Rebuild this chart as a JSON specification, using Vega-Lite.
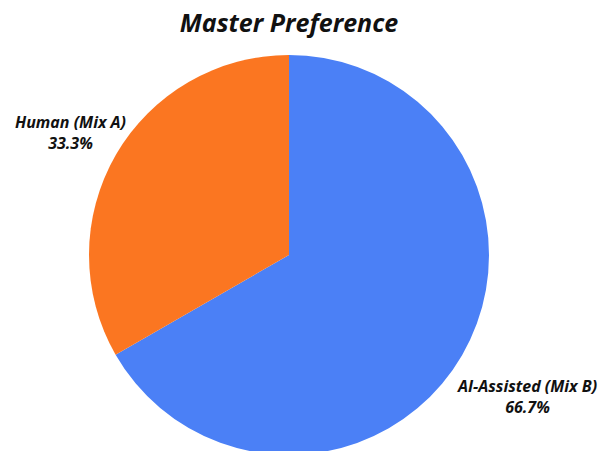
{
  "$schema": "https://vega.github.io/schema/vega-lite/v6.json",
  "width": 578,
  "height": 400,
  "autosize": "none",
  "padding": {"left": 0, "top": 55, "right": 23, "bottom": 0},
  "background": "white",
  "title": {
    "text": "Master Preference",
    "font": "Open Sans",
    "fontSize": 25,
    "fontStyle": "italic",
    "fontWeight": "bold",
    "color": "#111111",
    "anchor": "middle",
    "offset": 18
  },
  "data": {
    "values": [
      {"category": "AI-Assisted (Mix B)", "share": 66.7},
      {"category": "Human (Mix A)", "share": 33.3}
    ]
  },
  "encoding": {
    "theta": {"field": "share", "type": "quantitative", "stack": true},
    "order": {"field": "category", "sort": "ascending"}
  },
  "layer": [
    {
      "mark": {"type": "arc", "outerRadius": 200},
      "encoding": {
        "color": {
          "field": "category",
          "type": "nominal",
          "scale": {"domain": ["AI-Assisted (Mix B)", "Human (Mix A)"], "range": ["#4B80F6", "#FB7621"]},
          "legend": null
        }
      }
    },
    {
      "transform": [
        {"calculate": "[datum.category, format(datum.share, '.1f') + '%']", "as": "label"}
      ],
      "mark": {
        "type": "text",
        "radius": 264,
        "dx": 10,
        "dy": 0,
        "font": "Open Sans",
        "fontSize": 16,
        "fontStyle": "italic",
        "fontWeight": "bold",
        "color": "#111111",
        "align": "center",
        "baseline": "middle",
        "lineHeight": 21
      },
      "encoding": {
        "text": {"field": "label"}
      }
    }
  ]
}
